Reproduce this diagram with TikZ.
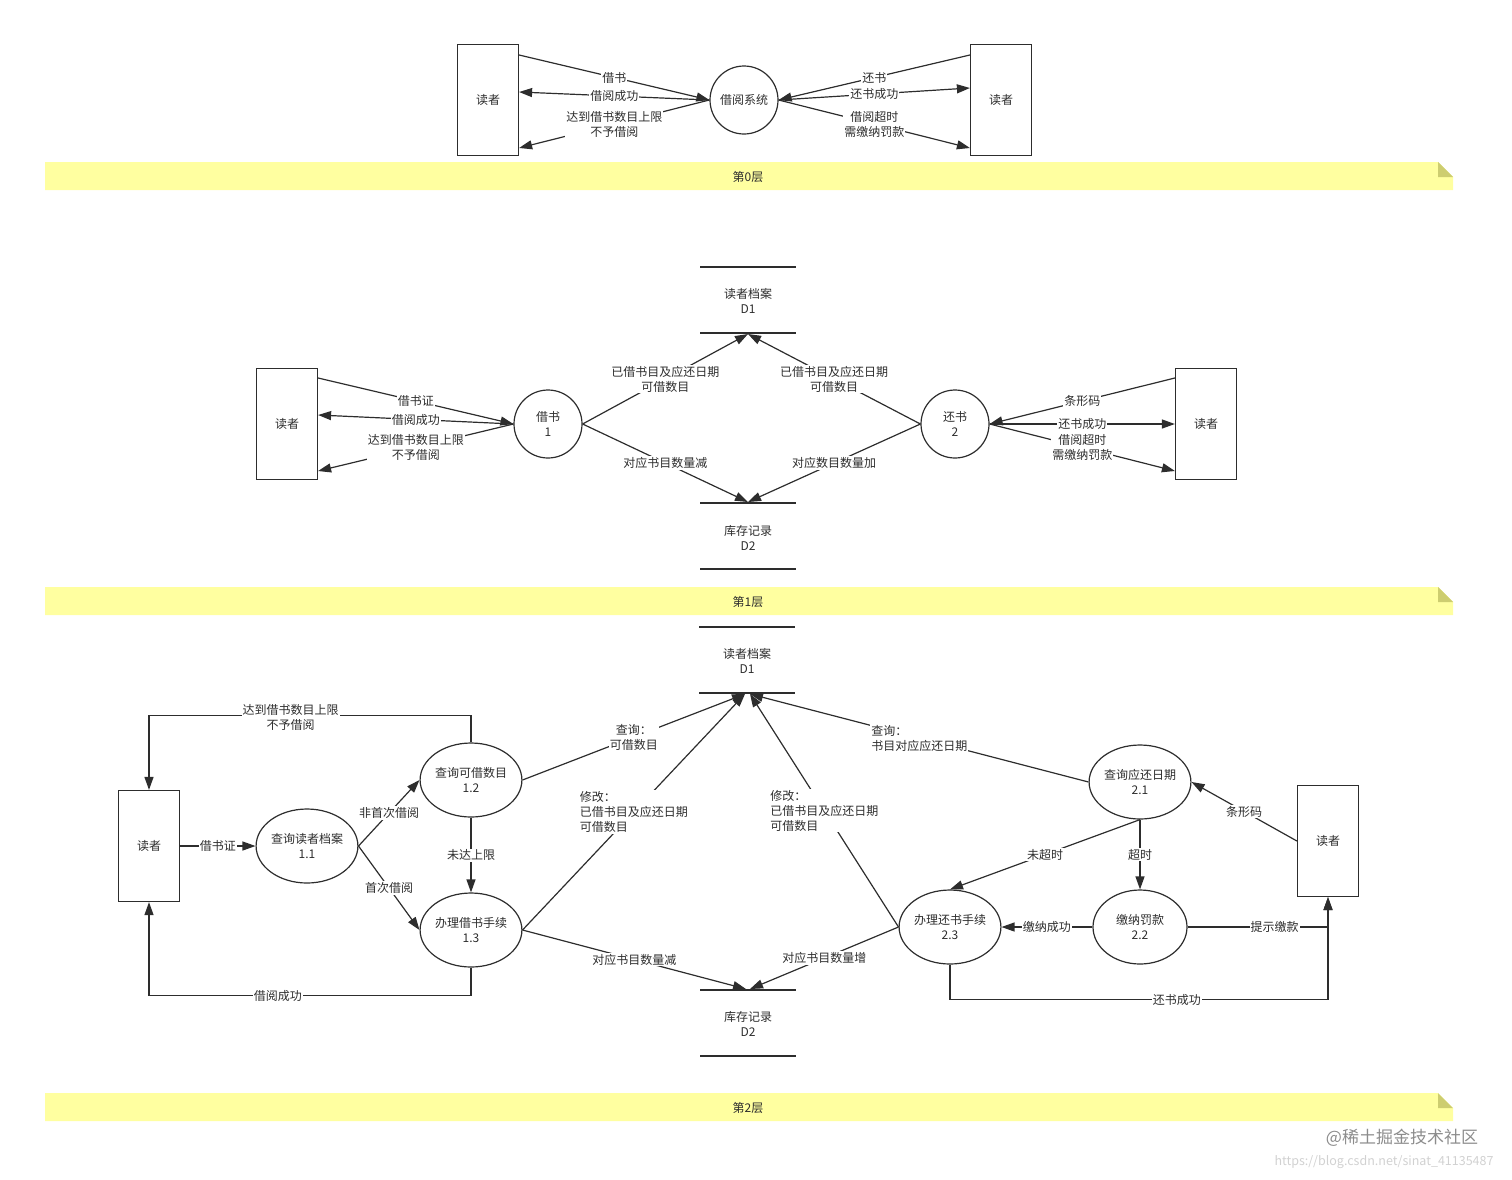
\documentclass[tikz,border=0pt]{standalone}
\usepackage{fontspec}
\setmainfont{Noto Sans CJK SC}
\usetikzlibrary{arrows.meta,shapes.geometric}
\definecolor{ink}{RGB}{45,45,45}
\definecolor{band}{RGB}{255,255,160}
\definecolor{fold}{RGB}{205,205,112}

\begin{document}
\begin{tikzpicture}[x=1pt,y=-1pt,font=\fontsize{12}{15}\selectfont,text=ink,
  ent/.style={draw=ink,line width=1.2pt,minimum width=61pt,minimum height=111pt},
  bub/.style={draw=ink,line width=1.2pt,circle,minimum size=68pt,inner sep=0pt,align=center},
  proc/.style={draw=ink,line width=1.2pt,ellipse,minimum width=94pt,minimum height=74pt,inner sep=0pt,align=center},
  link/.style={draw=ink,line width=1.2pt},
  flow/.style={link,-{Triangle[length=13pt,width=9pt]}},
  lbl/.style={pos=.5,fill=white,inner sep=1pt,align=center}]
  \useasboundingbox (0,0) rectangle (1512,1179);

  \foreach \y/\t in {162/第0层,587/第1层,1093/第2层} {
    \fill[band] (45,\y) -- (1438,\y) -- (1453,\y+15) -- (1453,\y+28) -- (45,\y+28) -- cycle;
    \fill[fold] (1438,\y) -- (1453,\y+15) -- (1438,\y+15) -- cycle;
    \node (band\y) at (748,\y+15) {\t};
  }

  \node[ent] (rd0l) at (488,100) {读者};
  \node[bub] (sys) at (744,100) {借阅系统};
  \node[ent] (rd0r) at (1001,100) {读者};
  \draw[flow] ([yshift=45pt]rd0l.east) -- (sys.west) node[lbl]{借书};
  \draw[flow] (sys.west) -- ([yshift=8pt]rd0l.east) node[lbl]{借阅成功};
  \draw[flow] (sys.west) -- ([yshift=-48pt]rd0l.east) node[lbl]{达到借书数目上限\\不予借阅};
  \draw[flow] ([yshift=45pt]rd0r.west) -- (sys.east) node[lbl]{还书};
  \draw[flow] (sys.east) -- ([yshift=12pt]rd0r.west) node[lbl]{还书成功};
  \draw[flow] (sys.east) -- ([yshift=-48pt]rd0r.west) node[lbl]{借阅超时\\需缴纳罚款};

  \foreach \x/\y in {748/267,748/333,748/503,748/569,747/627,747/693,748/990,748/1056}
    \draw[link] (\x-48,\y) -- (\x+48,\y);
  \node[align=center] (d1a) at (748,301) {读者档案\\D1};
  \node[align=center] (d2a) at (748,538) {库存记录\\D2};
  \node[align=center] (d1b) at (747,661) {读者档案\\D1};
  \node[align=center] (d2b) at (748,1024) {库存记录\\D2};
  \coordinate (d1ain) at (748,334);
  \coordinate (d2ain) at (748,502);
  \coordinate (d1bl) at (745,694);
  \coordinate (d1br) at (750,694);
  \coordinate (d2bl) at (746,989);
  \coordinate (d2br) at (750,989);

  \node[ent] (rd1l) at (287,424) {读者};
  \node[bub] (b1) at (548,424) {借书\\1};
  \node[bub] (b2) at (955,424) {还书\\2};
  \node[ent] (rd1r) at (1206,424) {读者};
  \draw[flow] ([yshift=46pt]rd1l.east) -- (b1.west) node[lbl]{借书证};
  \draw[flow] (b1.west) -- ([yshift=9pt]rd1l.east) node[lbl]{借阅成功};
  \draw[flow] (b1.west) -- ([yshift=-47pt]rd1l.east) node[lbl]{达到借书数目上限\\不予借阅};
  \draw[flow] (b1.east) -- (d1ain) node[lbl]{已借书目及应还日期\\可借数目};
  \draw[flow] (b1.east) -- (d2ain) node[lbl]{对应书目数量减};
  \draw[flow] (b2.west) -- (d1ain) node[lbl]{已借书目及应还日期\\可借数目};
  \draw[flow] (b2.west) -- (d2ain) node[lbl]{对应数目数量加};
  \draw[flow] ([yshift=46pt]rd1r.west) -- (b2.east) node[lbl]{条形码};
  \draw[flow] (b2.east) -- (rd1r.west) node[lbl]{还书成功};
  \draw[flow] (b2.east) -- ([yshift=-47pt]rd1r.west) node[lbl]{借阅超时\\需缴纳罚款};

  \node[ent] (rd2l) at (149,846) {读者};
  \node[proc] (p11) at (307,846) {查询读者档案\\1.1};
  \node[proc] (p12) at (471,780) {查询可借数目\\1.2};
  \node[proc] (p13) at (471,930) {办理借书手续\\1.3};
  \node[proc] (p21) at (1140,782) {查询应还日期\\2.1};
  \node[proc] (p22) at (1140,927) {缴纳罚款\\2.2};
  \node[proc] (p23) at (950,927) {办理还书手续\\2.3};
  \node[ent] (rd2r) at (1328,841) {读者};
  \draw[flow] (rd2l) -- (p11) node[lbl]{借书证};
  \draw[flow] (p11.east) -- (p12.west) node[lbl]{非首次借阅};
  \draw[flow] (p11.east) -- (p13.west) node[lbl]{首次借阅};
  \draw[flow] (p12) -- (p13) node[lbl]{未达上限};
  \draw[flow] (p12.north) -- ++(0,-27) -| (rd2l.north) node[lbl,pos=.28,yshift=-2pt]{达到借书数目上限\\不予借阅};
  \draw[flow] (p13.south) -- ++(0,28) -| (rd2l.south) node[lbl,pos=.3]{借阅成功};
  \draw[flow] (p12.east) -- (d1bl) node[lbl]{查询：\\可借数目};
  \draw[flow] (p13.east) -- (d1bl) node[lbl,align=left]{修改：\\已借书目及应还日期\\可借数目};
  \draw[flow] (p13.east) -- (d2bl) node[lbl]{对应书目数量减};
  \draw[flow] (p21.west) -- (d1br) node[lbl,align=left]{查询：\\书目对应应还日期};
  \draw[flow] (p23.west) -- (d1br) node[lbl,align=left]{修改：\\已借书目及应还日期\\可借数目};
  \draw[flow] (p23.west) -- (d2br) node[lbl]{对应书目数量增};
  \draw[flow] (rd2r.west) -- (p21.east) node[lbl]{条形码};
  \draw[flow] (p21.south) -- (p23.north) node[lbl]{未超时};
  \draw[flow] (p21) -- (p22) node[lbl]{超时};
  \draw[flow] (p22) -- (p23) node[lbl]{缴纳成功};
  \draw[flow] (p22.east) -| (rd2r.south) node[lbl,pos=.31]{提示缴款};
  \draw[flow] (p23.south) -- ++(0,35) -| (rd2r.south) node[lbl,pos=.3]{还书成功};

  \node[text=black!45,font=\fontsize{17}{20}\selectfont] (wm) at (1402,1138) {@稀土掘金技术社区};
  \node[text=black!18,font=\fontsize{12.5}{15}\selectfont] (url) at (1384,1162) {https://blog.csdn.net/sinat\_41135487};
\end{tikzpicture}
\end{document}
